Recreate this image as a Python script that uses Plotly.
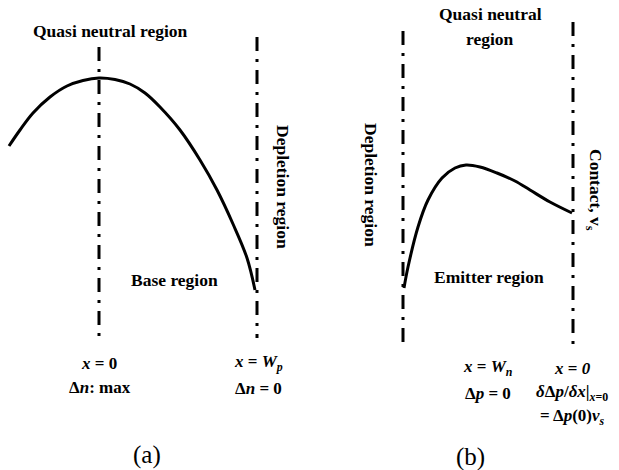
import plotly.graph_objects as go

# ---- data (schematic coordinates, pixel-like units) ----
curve_a_x = [9, 20, 33, 50, 67, 83, 99, 115, 130, 145, 160, 180, 200, 217, 233, 247, 255]
curve_a_y = [146, 130, 113, 97, 86, 80.5, 78, 79.5, 84, 93, 107, 130, 160, 190, 224, 258, 290]

curve_b_x = [404, 408, 418, 428, 442, 455, 466, 480, 497, 515, 530, 550, 572]
curve_b_y = [288, 267, 227, 200, 178, 168, 165, 167, 173, 181, 190, 202, 213]

boundary_x = [99, 257, 403, 573]
boundary_top = [47, 37, 31, 22]
boundary_bottom = [340, 338, 345, 345]

FONT = "Liberation Serif"

fig = go.Figure()

for bx, bt, bb in zip(boundary_x, boundary_top, boundary_bottom):
    fig.add_trace(go.Scatter(
        x=[bx, bx], y=[bt, bb], mode="lines",
        line=dict(color="black", width=3, dash="14px,8px,3px,8px"),
        hoverinfo="skip", showlegend=False))

fig.add_trace(go.Scatter(x=curve_a_x, y=curve_a_y, mode="lines",
                         line=dict(color="black", width=3, shape="spline", smoothing=1.0),
                         showlegend=False))
fig.add_trace(go.Scatter(x=curve_b_x, y=curve_b_y, mode="lines",
                         line=dict(color="black", width=3, shape="spline", smoothing=1.0),
                         showlegend=False))

def ann(x, y, text, size=17.5, angle=0):
    fig.add_annotation(x=x, y=y, xref="x", yref="y", text=text, showarrow=False,
                       xanchor="center", yanchor="middle", textangle=angle,
                       font=dict(family=FONT, size=size, color="black"))

# panel (a)
ann(110, 31, "<b>Quasi neutral region</b>")
ann(283, 187, "<b>Depletion region</b>", angle=90)
ann(174, 280, "<b>Base region</b>")
ann(99, 363, "<b><i>x</i> = 0</b>", size=17)
ann(100, 387, "<b>Δ<i>n</i>: max</b>", size=17)
ann(258, 363, "<b><i>x</i> = <i>W<sub>p</sub></i></b>", size=17)
ann(258, 388, "<b>Δ<i>n</i> = 0</b>", size=17)
ann(147, 455, "(a)", size=25)

# panel (b)
ann(490, 14, "<b>Quasi neutral</b>")
ann(490, 39, "<b>region</b>")
ann(371, 185, "<b>Depletion region</b>", angle=90)
ann(595, 190, "<b>Contact, v<sub>s</sub></b>", angle=90)
ann(489, 277, "<b>Emitter region</b>")
ann(488, 368, "<b><i>x</i> = <i>W<sub>n</sub></i></b>", size=17)
ann(488, 393, "<b>Δ<i>p</i> = 0</b>", size=17)
ann(572, 368, "<b><i>x</i> = <i>0</i></b>", size=17)
ann(572, 393, "<b><i>δ</i>Δ<i>p</i>/<i>δx</i>|<sub><i>x</i>=0</sub></b>", size=17)
ann(572, 417, "<b>= Δ<i>p</i>(0)<i>v<sub>s</sub></i></b>", size=17)
ann(470, 457, "(b)", size=25)

fig.update_layout(
    width=619, height=470,
    margin=dict(l=0, r=0, t=0, b=0),
    paper_bgcolor="white", plot_bgcolor="white",
    xaxis=dict(range=[0, 619], visible=False, fixedrange=True),
    yaxis=dict(range=[470, 0], visible=False, fixedrange=True),
    showlegend=False,
)

fig.write_html("out.html")
